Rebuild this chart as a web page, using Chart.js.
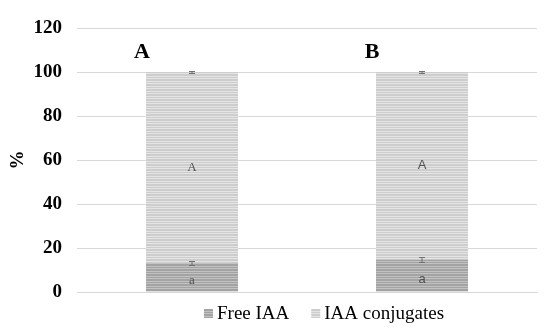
<!DOCTYPE html>
<html>
<head>
<meta charset="utf-8">
<script src="https://cdn.jsdelivr.net/npm/chart.js@4"></script>
<style>
  html, body { margin: 0; padding: 0; background: #fff; }
  #wrap { width: 550px; height: 332px; }
</style>
</head>
<body>
<div id="wrap"><canvas id="chart"></canvas></div>
<script>
const categories = ["A", "B"];
const freeIAA = [13.2, 14.8];
const freeErr = [1.0, 1.2];
const conjugates = [86.8, 85.2];
const conjErr = [0.3, 0.3];
const freeLetters = ["a", "a"];
const conjLetters = ["A", "A"];
const yTicks = [0, 20, 40, 60, 80, 100, 120];

function stripes(base, line) {
  const c = document.createElement("canvas");
  c.width = 4;
  c.height = 5;
  const g = c.getContext("2d");
  g.fillStyle = base;
  g.fillRect(0, 0, 4, 5);
  g.fillStyle = line;
  g.fillRect(0, 1, 4, 1);
  g.fillRect(0, 3, 4, 1);
  return g.createPattern(c, "repeat");
}

const freeFill = stripes("#a3a3a3", "#c2c2c2");
const conjFill = stripes("#cdcdcd", "#e4e4e4");
const letterFonts = ["'Liberation Serif'", "'Liberation Sans'"];

// error bars, significance letters and panel labels
const annotations = {
  id: "annotations",
  afterDatasetsDraw(chart) {
    const ctx = chart.ctx;
    const y = chart.scales.y;
    const metaFree = chart.getDatasetMeta(0);
    ctx.save();
    categories.forEach((cat, i) => {
      const bf = metaFree.data[i];
      const x = bf.x;
      const left = bf.x - bf.width / 2;

      // error bars
      ctx.strokeStyle = "#707070";
      ctx.lineWidth = 1;
      [[freeIAA[i], freeErr[i]], [freeIAA[i] + conjugates[i], conjErr[i]]].forEach(([v, e]) => {
        const y1 = Math.round(y.getPixelForValue(v + e)) + 0.5;
        const y2 = Math.round(y.getPixelForValue(v - e)) + 0.5;
        ctx.beginPath();
        ctx.moveTo(x, y1); ctx.lineTo(x, y2);
        ctx.moveTo(x - 3, y1); ctx.lineTo(x + 3, y1);
        ctx.moveTo(x - 3, y2); ctx.lineTo(x + 3, y2);
        ctx.stroke();
      });

      // letters inside segments
      ctx.fillStyle = "#505050";
      ctx.font = "13px " + letterFonts[i];
      ctx.textAlign = "center";
      ctx.textBaseline = "middle";
      ctx.fillText(freeLetters[i], x, y.getPixelForValue(freeIAA[i] * 0.4));
      ctx.fillText(conjLetters[i], x, y.getPixelForValue(freeIAA[i] + conjugates[i] / 2));

      // panel label
      ctx.fillStyle = "#000";
      ctx.font = "bold 22px 'Liberation Serif'";
      ctx.fillText(cat, left - 4, y.getPixelForValue(109));
    });

    // legend
    ctx.font = "19px 'Liberation Serif'";
    ctx.textAlign = "left";
    ctx.textBaseline = "middle";
    let lx = 204;
    const ly = 313;
    chart.data.datasets.forEach(ds => {
      ctx.fillStyle = ds.backgroundColor;
      ctx.fillRect(lx, ly - 4, 9, 9);
      ctx.fillStyle = "#000";
      ctx.fillText(ds.label, lx + 13, ly + 1);
      lx += 13 + ctx.measureText(ds.label).width + 22;
    });
    ctx.restore();
  }
};

new Chart(document.getElementById("chart"), {
  type: "bar",
  data: {
    labels: categories,
    datasets: [
      { label: "Free IAA", data: freeIAA, backgroundColor: freeFill, borderWidth: 0 },
      { label: "IAA conjugates", data: conjugates, backgroundColor: conjFill, borderWidth: 0 }
    ]
  },
  options: {
    responsive: true,
    maintainAspectRatio: false,
    animation: false,
    layout: { padding: { left: 7, right: 13, top: 28, bottom: 40 } },
    datasets: { bar: { categoryPercentage: 0.4, barPercentage: 1 } },
    scales: {
      x: {
        stacked: true,
        grid: { display: false, drawTicks: false },
        border: { color: "#d9d9d9" },
        ticks: { display: false }
      },
      y: {
        stacked: true,
        min: 0,
        max: 120,
        afterBuildTicks: axis => { axis.ticks = yTicks.map(v => ({ value: v })); },
        afterFit: axis => { axis.width = 70; },
        grid: { color: "#d9d9d9", drawTicks: false },
        border: { display: false },
        ticks: {
          padding: 15,
          color: "#000",
          font: { family: "'Liberation Serif'", size: 19, weight: "bold" }
        },
        title: {
          display: true,
          text: "%",
          color: "#000",
          padding: { top: 0, bottom: 8 },
          font: { family: "'Liberation Serif'", size: 19, weight: "bold" }
        }
      }
    },
    plugins: {
      tooltip: { enabled: false },
      legend: { display: false }
    }
  },
  plugins: [annotations]
});
</script>
</body>
</html>
